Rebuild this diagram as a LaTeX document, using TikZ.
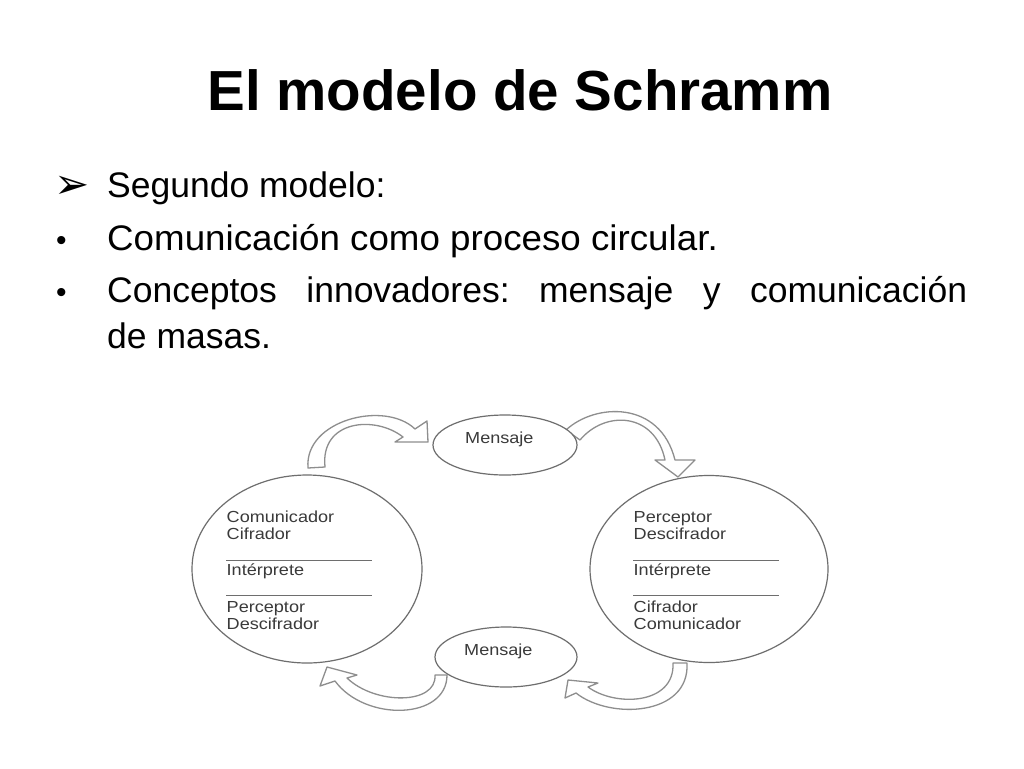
\documentclass[tikz,border=0pt]{standalone}
\usepackage{fontspec}
\usepackage{graphicx}
\setmainfont{Liberation Sans}
\newfontfamily\dfont[FakeStretch=1.13]{Liberation Sans}
\newfontfamily\symfont{DejaVu Sans}
\usetikzlibrary{shapes.geometric}
\frenchspacing
\definecolor{dtext}{HTML}{3A3A3A}
\definecolor{dline}{HTML}{6E6E6E}
\definecolor{aline}{HTML}{8E8E8E}
\tikzset{
  bigell/.style={ellipse, draw=dline, line width=1.2pt, fill=white, inner sep=0pt},
  msgell/.style={ellipse, draw=dline, line width=1.2pt, fill=white, inner sep=0pt, minimum width=144pt, minimum height=60pt},
  dtxt/.style={anchor=base west, inner sep=0pt, text=dtext, font=\dfont\fontsize{16}{18}\selectfont},
  btxt/.style={anchor=base west, inner sep=0pt, font=\fontsize{35.5}{40}\selectfont},
  sep/.style={draw=dline, line width=1pt},
  blockarrow/.style={draw=aline, line width=1.3pt, fill=white, line join=round}
}
\begin{document}
\begin{tikzpicture}[x=1pt,y=-1pt]
\useasboundingbox (0,0) rectangle (1024,768);
\fill[white] (0,0) rectangle (1024,768);

% title
\node[anchor=base, inner sep=0pt, font=\bfseries\fontsize{56.5}{60}\selectfont] (title) at (520,110) {El modelo de Schramm};

% bullets
\node[anchor=base west, inner sep=0pt, font=\symfont\fontsize{42}{44}\selectfont] (b1) at (54,198) {➢};
\node[btxt] (t1) at (107,197) {Segundo modelo:};
\node[anchor=base west, inner sep=0pt, font=\fontsize{30}{32}\selectfont] (b2) at (56,250) {•};
\node[btxt] (t2) at (107,250) {\scalebox{1.035}[1]{Comunicación como proceso circular.}};
\node[anchor=base west, inner sep=0pt, font=\fontsize{30}{32}\selectfont] (b3) at (56,302) {•};
\node[btxt] (t3) at (107,302) {\makebox[860pt][s]{Conceptos innovadores: mensaje y comunicación}};
\node[btxt] (t4) at (107,348) {de masas.};

% block arrows
\draw[blockarrow] (308,468) .. controls (304,420) and (385,400) .. (415,429)
  -- (427,421) -- (428,442) -- (395,442) -- (403,437)
  .. controls (375,415) and (320,420) .. (325,467) -- cycle;
\draw[blockarrow] (566,430) .. controls (595,403) and (660,400) .. (675,460)
  -- (695,460) -- (678,477) -- (655,460) -- (665,460)
  .. controls (655,412) and (605,410) .. (580,440) -- cycle;
\draw[blockarrow] (447,675) .. controls (447,720) and (365,722) .. (335,681)
  -- (320,686) -- (327,667) -- (357,675) -- (347,678)
  .. controls (375,705) and (437,705) .. (435,675) -- cycle;
\draw[blockarrow] (687,663) .. controls (690,716) and (610,720) .. (576,693)
  -- (565,698) -- (568,680) -- (598,683) -- (588,687)
  .. controls (615,707) and (675,705) .. (673,663) -- cycle;

% ellipses
\node[bigell, minimum width=230pt, minimum height=188pt] (L) at (307,569) {};
\node[bigell, minimum width=238pt, minimum height=187pt] (R) at (709,569) {};
\node[msgell] (M1) at (505,445) {};
\node[msgell, minimum width=142pt] (M2) at (506,657) {};
\node[dtxt] (m1t) at (465,443) {Mensaje};
\node[dtxt] (m2t) at (464,655) {Mensaje};

% left ellipse text
\node[dtxt] (l1) at (226.5,522) {Comunicador};
\node[dtxt] (l2) at (226.5,539) {Cifrador};
\node[dtxt] (l3) at (226.5,575) {Intérprete};
\node[dtxt] (l4) at (226.5,612) {Perceptor};
\node[dtxt] (l5) at (226.5,629) {Descifrador};
\coordinate (la1) at (226,560); \coordinate (lb1) at (372,560);
\coordinate (la2) at (226,595); \coordinate (lb2) at (372,595);
\draw[sep] (la1) -- (lb1);
\draw[sep] (la2) -- (lb2);

% right ellipse text
\node[dtxt] (r1) at (633.5,522) {Perceptor};
\node[dtxt] (r2) at (633.5,539) {Descifrador};
\node[dtxt] (r3) at (633.5,575) {Intérprete};
\node[dtxt] (r4) at (633.5,612) {Cifrador};
\node[dtxt] (r5) at (633.5,629) {Comunicador};
\coordinate (ra1) at (633,560); \coordinate (rb1) at (779,560);
\coordinate (ra2) at (633,595); \coordinate (rb2) at (779,595);
\draw[sep] (ra1) -- (rb1);
\draw[sep] (ra2) -- (rb2);
\end{tikzpicture}
\end{document}
